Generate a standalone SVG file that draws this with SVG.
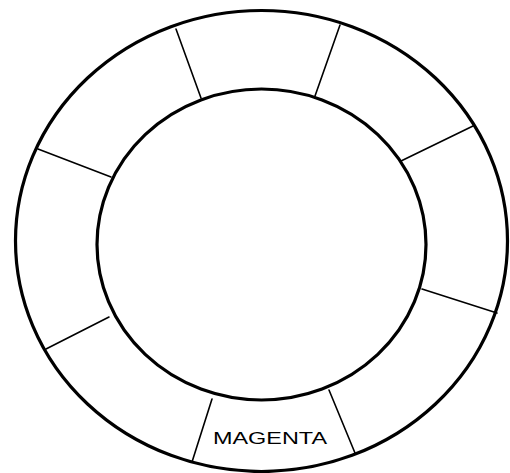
<svg xmlns="http://www.w3.org/2000/svg" width="510" height="473" viewBox="0 0 510 473">
<style>
.ring{fill:none;stroke:#000;stroke-width:3.2}
.div{stroke:#000;stroke-width:1.6;stroke-linecap:round}
.lbl{font-family:"Liberation Sans",Arial,sans-serif;font-size:16.5px;fill:#000}
</style>
<rect width="510" height="473" fill="#fff"/>
<g id="outer-ring"><ellipse class="ring" cx="261.5" cy="241" rx="246" ry="230.5"/></g>
<g id="inner-circle"><ellipse class="ring" cx="261.5" cy="244.5" rx="164.5" ry="155.5"/></g>
<g id="connectors">
<line class="div" x1="176" y1="29" x2="201" y2="98"/>
<line class="div" x1="340" y1="25" x2="315" y2="96"/>
<line class="div" x1="473" y1="126" x2="401" y2="161"/>
<line class="div" x1="422" y1="289" x2="497" y2="313"/>
<line class="div" x1="329" y1="390" x2="355" y2="453"/>
<line class="div" x1="212" y1="399" x2="192" y2="462"/>
<line class="div" x1="46" y1="349" x2="109" y2="317"/>
<line class="div" x1="38" y1="149" x2="111" y2="177"/>
</g>
<g id="segment-magenta"><text class="lbl" x="213" y="443.5" textLength="114" lengthAdjust="spacingAndGlyphs">MAGENTA</text></g>
</svg>
